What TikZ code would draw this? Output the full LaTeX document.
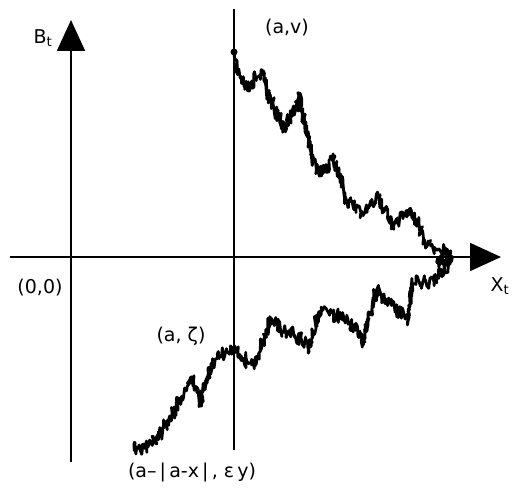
\documentclass[tikz,border=0pt]{standalone}
\usepackage{fontspec}
\setmainfont{DejaVu Sans}
\usetikzlibrary{arrows.meta}
\begin{document}
\begin{tikzpicture}[x=1pt,y=-1pt,
  axis/.style={line width=1.8pt,-{Triangle[length=31pt,width=28pt]}},
  lbl/.style={inner sep=0pt,font=\fontsize{19}{22}\selectfont},
  bm/.style={line width=2.8pt,line join=round}]
\useasboundingbox (0,0) rectangle (516,492);
\pgfmathsetseed{11}
% coordinates
\coordinate (yb) at (71,462);
\coordinate (yt) at (71,20);
\coordinate (xl) at (10,257);
\coordinate (xr) at (501,257);
\coordinate (vt) at (234,9);
\coordinate (vb) at (234,450);
\draw[axis] (yb) -- (yt);
\draw[axis] (xl) -- (xr);
\draw[line width=1.8pt] (vt) -- (vb);
% Brownian path, generated from trend points with noise
\node[circle,fill,inner sep=0pt,minimum size=7pt] (start) at (234,52) {};
\gdef\bmpath{}
\gdef\bmw{0}
\foreach [remember=\x as \px (initially 234), remember=\y as \py (initially 52)] \x/\y in
  {240/75, 247/87, 263/73, 268/93, 285/130, 300/98, 308/140, 313/160, 320/173,
   333/157, 340/180, 347/200, 360/213, 377/200, 393/227, 410/210, 420/230, 433/247,
   447/250, 452/260, 446/268, 437/262, 442/252, 450/256, 447/265, 430/283, 413/283,
   407/317, 387/300, 377/287, 363/340, 347/317, 320/313, 307/347, 270/320, 253/367,
   233/347, 213/363, 200/403, 190/380, 170/417, 153/440, 137/450, 133/443} {
  \pgfmathsetmacro\d{veclen(\x-\px,\y-\py)}
  \pgfmathtruncatemacro\n{max(1,\d/1.1)}
  \foreach \i in {1,...,\n} {
    \pgfmathsetmacro\nw{0.88*\bmw+1.8*rand}
    \xdef\bmw{\nw}
    \pgfmathsetmacro\qx{\px+(\x-\px)*\i/\n+1.3*rand}
    \pgfmathsetmacro\qy{\py+(\y-\py)*\i/\n+7*rand+\bmw}
    \xdef\bmpath{\bmpath -- (\qx,\qy)}
  }
}
\draw[bm] (start.center) \bmpath;
% labels
\node[lbl] (B) at (43,38) {B\textsubscript{t}};
\node[lbl] (av) at (287,28) {(a,v)};
\node[lbl] (o) at (40,288) {(0,0)};
\node[lbl] (X) at (500,286) {X\textsubscript{t}};
\node[lbl] (az) at (181,336) {(a, ζ)};
\node[lbl] (ae) at (192,472) {(a–\,|\,a-x\,|\,, ε\,y)};
\end{tikzpicture}
\end{document}
